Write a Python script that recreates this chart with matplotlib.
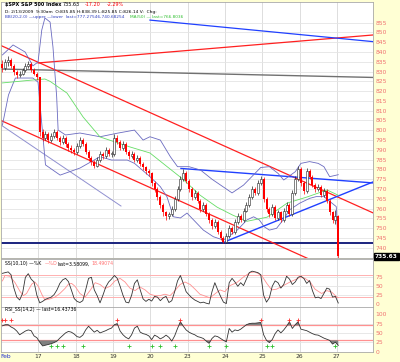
import matplotlib.pyplot as plt
import numpy as np

# $SPX 30-minute bars, 13 Feb - 27 Feb 2009
day_labels = ['Feb', '17', '18', '19', '20', '23', '24', '25', '26', '27']
bars_per_day = 13
open_first = 834

close = [832, 835, 836, 833, 830, 828, 829, 831, 833, 834, 831, 829, 827,
         799, 796, 798, 795, 797, 799, 796, 794, 796, 793, 791, 790, 789,
         792, 795, 793, 789, 786, 784, 782, 785, 788, 787, 790, 788, 788,
         796, 794, 791, 793, 789, 787, 788, 785, 786, 783, 781, 779, 778,
         773, 770, 766, 762, 758, 756, 757, 760, 765, 770, 775, 778, 774,
         770, 766, 768, 764, 760, 762, 757, 754, 751, 753, 748, 745, 743,
         746, 750, 748, 753, 756, 754, 759, 762, 766, 770, 768, 773, 775,
         765, 760, 757, 761, 755, 758, 754, 759, 762, 757, 768, 775, 780,
         773, 769, 779, 776, 772, 770, 771, 767, 769, 764, 758, 754, 756,
         735.63]
high = [836, 836.5, 838, 837, 834, 831, 830.5, 832, 834.5, 835.5, 835, 832, 830,
        827, 800.5, 799.5, 799, 798.5, 800.5, 800, 797, 797.5, 797, 794, 792.5, 791,
        793.5, 796.5, 796, 794, 790, 787, 785, 786.5, 789.5, 789, 791.5, 791, 789.5,
        798, 797.5, 795, 794.5, 794, 790, 789.5, 789, 787.5, 787, 784, 782, 780,
        778.5, 774, 771, 767, 763, 759, 758.5, 761.5, 766.5, 771.5, 776.5, 780, 779,
        775, 771, 769.5, 769, 765, 763.5, 763, 758, 755, 754.5, 754, 749, 746,
        747.5, 751.5, 751, 754.5, 757.5, 757, 760.5, 763.5, 767.5, 771.5, 771, 774.5, 776.5,
        776, 766, 761, 762.5, 762, 759.5, 759, 760.5, 763.5, 763, 769.5, 776.5, 781.5,
        781, 774, 780.5, 780, 777, 773, 772.5, 772, 770.5, 770, 765, 759, 759.5,
        756.5]
low = [830, 831, 833, 832, 828.5, 826.5, 827, 828, 830, 832, 830, 828, 825.5,
       797, 794.5, 795, 793.5, 794, 796, 795, 792.5, 793, 791.5, 789.5, 788.5, 787.5,
       788, 791, 792, 788, 784.5, 782.5, 780.5, 781, 784, 785.5, 786, 787, 786.5,
       787, 793, 790, 790, 788, 785.5, 786, 784, 784, 782, 779.5, 777.5, 776.5,
       771.5, 768.5, 764.5, 760.5, 756, 754, 754.5, 756, 759, 764, 769, 774, 773,
       768.5, 764.5, 765, 763, 758.5, 759, 756, 752.5, 749.5, 750, 747, 744, 742.4,
       742.5, 745, 747, 747, 752, 753, 753, 758, 761, 765, 767, 767, 772,
       763.5, 758.5, 755.5, 756, 754, 754, 752.9, 753, 758, 756, 756, 767, 774,
       771.5, 767.5, 768, 775, 771, 768.5, 769, 766, 766, 763, 756.5, 752.5, 752,
       734.5]

# MA(50) and Bollinger bands, sampled along the chart (bar position, price)
ma50_bar = [0, 10.6, 14.8, 16.6, 22.5, 28.1, 34, 44.4, 51.4, 57.3, 62.9, 68.8,
            74.8, 80.3, 85.2, 92.2, 99.2, 106.1, 113.1, 117]
ma50_val = [824.2, 825.7, 826.2, 825.0, 819.0, 806.8, 796.6, 791.5, 788.4, 781.5,
            775.0, 766.9, 760.7, 756.6, 753.5, 755.6, 762.8, 765.9, 769.5, 766.8]

bb_up_bar = [0, 3.7, 7.9, 10.6, 12.4, 13.7, 14.8, 16.6, 17.6, 18.9, 19.4, 22, 27,
             34, 40, 46, 49, 51.4, 55, 58.5, 61, 65, 69, 73, 77, 80, 84, 88, 90,
             93, 96, 98, 102, 104, 107, 110, 112, 114, 117]
bb_up_val = [838.5, 843.6, 840, 832.9, 834.9, 851.2, 857.4, 855.3, 842.6, 817, 800.1,
             797.6, 798.6, 796.7, 798.5, 800.1, 795, 796.7, 795, 786.5, 781.4, 781.4,
             779.7, 775, 771, 768, 772, 778, 781, 781.4, 778, 774.6, 778.8, 783.1, 784,
             783.1, 781.4, 776.3, 777.3]
bb_lo_bar = [0, 2.1, 4.5, 10.6, 12.4, 15, 20.1, 27, 34, 38, 43.5, 46, 51.4, 55,
             57.3, 59.6, 62, 64.3, 70, 73.5, 77, 81.8, 85.2, 87.5, 89.5, 91.2, 93,
             95.5, 97.8, 100, 103.5, 107, 109.3, 112, 116.3, 117]
bb_lo_val = [802.7, 818, 826.7, 826.7, 824.6, 782.3, 777.1, 780.7, 786.5, 784.8,
             784.8, 783.1, 776.3, 771.2, 766.1, 755.8, 755.2, 757.7, 749, 745.6, 743.9,
             749, 754.2, 755.8, 754.2, 750.7, 749, 749.9, 754.2, 759.3, 762.7, 765.2,
             766.1, 766.1, 761, 740.68]

# trend lines drawn on the chart: (bar, price) end points
tl_red_top_x, tl_red_top_y = [-0.5, 129.1], [843.3, 757.8]
tl_red_low_x, tl_red_low_y = [-0.5, 129.1], [805.0, 719.5]
tl_red_rise_x, tl_red_rise_y = [12.4, 129.1], [834.4, 848.7]
tl_blue_top_x, tl_blue_top_y = [51.4, 129.1], [856.3, 845.3]
tl_blue_res_x, tl_blue_res_y = [62.2, 129.1], [780.5, 773.1]
tl_blue_sup_x, tl_blue_sup_y = [77.6, 129.1], [743.1, 773.6]
tl_grey_x, tl_grey_y = [-0.5, 129.1], [831.3, 827.0]
tl_purple_x, tl_purple_y = [-0.5, 41.3], [802.7, 761.3]
support_level = 742.3

# SS(10,10) %K per bar and %D sampled
pct_k = [86, 88, 90, 82, 45, 20, 12, 30, 75, 85, 70, 62, 25,
         4, 8, 14, 17, 20, 27, 40, 58, 68, 72, 63, 40, 16,
         8, 5, 10, 40, 72, 75, 40, 24, 4, 25, 48, 62, 70,
         80, 72, 50, 25, 6, 4, 25, 58, 68, 40, 15, 8, 14,
         9, 22, 20, 10, 18, 22, 5, 10, 35, 65, 80, 58, 35,
         26, 18, 12, 8, 4, 6, 3, 1, 35, 60, 40, 22, 6,
         2, 60, 72, 62, 50, 60, 52, 70, 88, 92, 90, 88, 82,
         25, 6, 18, 50, 65, 60, 45, 55, 78, 70, 55, 62, 75,
         78, 72, 58, 66, 38, 18, 20, 16, 30, 45, 42, 20, 22,
         3.58]
pct_d_bar = [0, 0.9, 2.6, 4.4, 6.1, 7.3, 8.4, 10.2, 11.3, 12.5, 13.7, 14.8, 16.6,
             18.3, 20, 21.8, 23, 24.1, 25.3, 27, 28.8, 30.5, 32.3, 34, 35.7, 37.5,
             39.2, 41, 42.7, 44.4, 46.2, 47.9, 49.7, 51.4, 53.2, 54.9, 56.6, 58.4,
             60.1, 61.9, 63.6, 65.4, 67.1, 68.8, 72.3, 75.8, 77.5, 79.3, 81.6, 84,
             86.3, 88, 90.3, 92.1, 93.8, 95.5, 97.9, 100.2, 101.9, 103.7, 105.4,
             107.2, 108.9, 111.2, 113, 114.7, 116.5, 117]
pct_d_val = [65, 80, 78, 60, 36, 24, 30, 56, 62, 50, 28, 12, 15, 20, 30, 44, 56,
             58, 50, 30, 20, 38, 60, 55, 44, 50, 65, 72, 62, 45, 38, 48, 40, 28,
             24, 24, 28, 24, 38, 55, 62, 55, 42, 28, 18, 40, 35, 52, 60, 76, 88,
             90, 80, 58, 40, 42, 52, 62, 68, 75, 72, 62, 42, 30, 38, 34, 20, 18.49]

# RSI_SS(14,2) per bar, with signal markers
rsi = [69, 72, 72, 66, 62, 55, 45, 50, 55, 58, 56, 42, 37,
       25, 15, 17, 19, 21, 24, 28, 36, 43, 50, 54, 52, 47,
       40, 38, 44, 58, 68, 60, 52, 57, 50, 53, 56, 60, 63,
       72, 75, 55, 45, 38, 34, 45, 63, 68, 52, 48, 46, 42,
       32, 44, 40, 34, 38, 44, 38, 28, 42, 62, 80, 68, 58,
       52, 48, 45, 40, 38, 35, 28, 22, 35, 42, 40, 35, 30,
       26, 62, 52, 58, 56, 60, 66, 72, 75, 76, 76, 77, 78,
       45, 30, 24, 32, 48, 58, 50, 58, 68, 80, 62, 72, 80,
       60, 58, 56, 52, 48, 45, 44, 40, 36, 33, 30, 20, 25,
       16.44]
rsi_sell_marks = [0, 1, 3, 40, 62, 90, 100, 103]
rsi_buy_marks = [17, 19, 21, 28, 44, 52, 55, 60, 72, 78, 92, 94, 116]

# ---------------------------------------------------------------------------
W, H = 400, 362
fig = plt.figure(figsize=(W / 100, H / 100), dpi=100)
fig.patch.set_facecolor('#FFFFD4')


def px_axes(x0, y0, x1, y1):
    return fig.add_axes([x0 / W, 1 - y1 / H, (x1 - x0) / W, (y1 - y0) / H])


ax = px_axes(1, 2, 373, 258)
ax_ss = px_axes(1, 259, 373, 307)
ax_rsi = px_axes(1, 307, 373, 352)

n = len(close)
x = np.arange(n)
opens = [open_first] + close[:-1]
xmin, xmax = -0.5, 129.1
day_starts = [k * bars_per_day - 0.5 for k in range(len(day_labels))]

for a in (ax, ax_ss, ax_rsi):
    a.set_xlim(xmin, xmax)
    a.set_facecolor('white')
    for s in a.spines.values():
        s.set_color('#A8A8A8')
        s.set_linewidth(0.6)
    a.tick_params(axis='x', length=0, labelbottom=False)
    a.yaxis.tick_right()
    a.tick_params(axis='y', length=0, pad=2, labelsize=4.3, labelcolor='#F07070')
    for d in day_starts[1:]:
        a.axvline(d, color='#D8D8D8', lw=0.6, zorder=0)

# ---- price panel
ax.set_ylim(734.74, 865.55)
ticks = np.arange(740, 856, 5)
ax.set_yticks(ticks)
ax.set_yticklabels([str(t) for t in ticks])
for t in ticks:
    ax.axhline(t, color='#E4E4E4', lw=0.6, zorder=0)

ax.plot(tl_grey_x, tl_grey_y, color='#707070', lw=1.0, zorder=1)
ax.axhline(support_level, color='#1A237E', lw=1.4, zorder=1)
ax.plot(tl_purple_x, tl_purple_y, color='#9090D0', lw=0.7, zorder=1)
ax.plot(tl_red_top_x, tl_red_top_y, color='#FF2020', lw=0.9, zorder=1)
ax.plot(tl_red_low_x, tl_red_low_y, color='#FF2020', lw=0.9, zorder=1)
ax.plot(tl_red_rise_x, tl_red_rise_y, color='#FF2020', lw=0.9, zorder=1)
ax.plot(tl_blue_top_x, tl_blue_top_y, color='#2040FF', lw=0.9, zorder=1)
ax.plot(tl_blue_res_x, tl_blue_res_y, color='#2040FF', lw=1.0, zorder=1)
ax.plot(tl_blue_sup_x, tl_blue_sup_y, color='#2040FF', lw=1.0, zorder=1)

ax.plot(bb_up_bar, bb_up_val, color='#6A6AC0', lw=0.6, zorder=2)
ax.plot(bb_lo_bar, bb_lo_val, color='#6A6AC0', lw=0.6, zorder=2)
ax.plot(ma50_bar, ma50_val, color='#66DD66', lw=0.6, zorder=2)

for i in range(n):
    o, c = opens[i], close[i]
    col = '#FF0000' if c < o else '#222222'
    ax.vlines(i, low[i], high[i], color=col, lw=0.5, zorder=3)
    if c < o:
        ax.bar(i, o - c, bottom=c, width=0.7, color=col, lw=0, zorder=4)
    else:
        ax.bar(i, max(c - o, 0.3), bottom=o, width=0.7, facecolor='white',
               edgecolor=col, lw=0.4, zorder=4)

# header
ax.text(0.8, 864.2, '$SPX S&P 500 Index', fontsize=3.5, fontweight='bold', va='center')
ax.text(21.0, 864.2, '735.63', fontsize=3.5, va='center')
ax.text(28.8, 864.2, '-17.20', fontsize=3.5, color='#FF0000', va='center')
ax.text(36.2, 864.2, '-2.29%', fontsize=3.5, color='#FF0000', va='center')
ax.text(0.8, 860.6, 'D: 2/13/2009  9:30am  O:835.85 H:838.39 L:825.85 C:826.14 V:  Chg:',
        fontsize=3.2, va='center')
ax.text(0.8, 857.8, 'BB(20,2.0) —upper —lower  last=777.27546,740.68254',
        fontsize=3.1, va='center', color='#3040C0')
ax.text(44.5, 857.8, 'MA(50) — last=766.8036', fontsize=3.1, va='center',
        color='#30C030')

ax.text(1.005, 735.63, '735.63', transform=ax.get_yaxis_transform(), fontsize=4.2,
        color='white', fontweight='bold', va='center', ha='left',
        bbox=dict(boxstyle='square,pad=0.15', fc='black', ec='black'))

# ---- SS panel
ax_ss.set_ylim(-7.5, 125.8)
ax_ss.set_yticks([0, 25, 50, 75])
for lv in (25, 50, 75):
    ax_ss.axhline(lv, color='#E4E4E4', lw=0.6, zorder=0)
for lv in (20, 80):
    ax_ss.axhline(lv, color='#FFB0B0', lw=0.7, zorder=1)
ax_ss.plot(pct_d_bar, pct_d_val, color='#FF9090', lw=0.6, zorder=2)
ax_ss.plot(x, pct_k, color='#333333', lw=0.6, zorder=3)
ax_ss.text(0.8, 112, 'SS(10,10) —%K', fontsize=3.3, va='center')
ax_ss.text(14.6, 112, '—%D', fontsize=3.3, va='center', color='#FF7070')
ax_ss.text(19.3, 112, 'last=3.58099,', fontsize=3.3, va='center')
ax_ss.text(31.0, 112, '18.49074', fontsize=3.3, va='center', color='#FF7070')

# ---- RSI panel
ax_rsi.set_ylim(-1.3, 119.6)
ax_rsi.set_yticks([0, 25, 50, 75, 100])
for lv in (25, 50, 75):
    ax_rsi.axhline(lv, color='#E4E4E4', lw=0.6, zorder=0)
for lv in (30, 70):
    ax_rsi.axhline(lv, color='#FF9090', lw=0.9, zorder=1)
rsi_arr = np.array(rsi)
ax_rsi.fill_between(x, rsi_arr, 30, where=rsi_arr < 30, interpolate=True,
                    color='#808080', lw=0, zorder=2)
ax_rsi.fill_between(x, rsi_arr, 70, where=rsi_arr > 70, interpolate=True,
                    color='#808080', lw=0, zorder=2)
ax_rsi.plot(x, rsi, color='#333333', lw=0.6, zorder=3)
ax_rsi.plot(rsi_sell_marks, [85] * len(rsi_sell_marks), '+', color='#FF3030',
            ms=2.5, mew=0.6, zorder=4)
ax_rsi.plot(rsi_buy_marks, [15] * len(rsi_buy_marks), '+', color='#30C030',
            ms=2.5, mew=0.6, zorder=4)
ax_rsi.text(0.8, 113, 'RSI_SS(14,2) — last=16.43736', fontsize=3.3, va='center')

# day labels below
for k, lab in enumerate(day_labels):
    xp = day_starts[k] if k else 1.0
    ax_rsi.text(xp, -13, lab, fontsize=4.3, ha='center', va='center',
                color='#2030D0' if k == 0 else '#333333')

fig.savefig('out.png', dpi=100, facecolor=fig.get_facecolor())
